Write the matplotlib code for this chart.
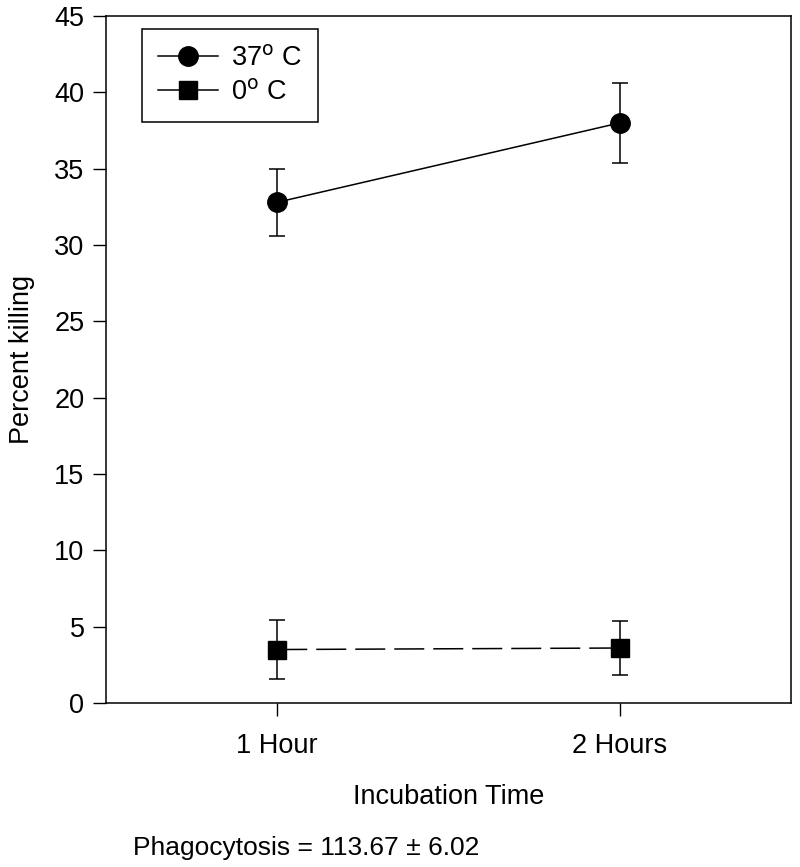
import matplotlib
matplotlib.use("Agg")
import matplotlib.pyplot as plt
from matplotlib.lines import Line2D

plt.rcParams["font.family"] = ["Liberation Sans", "DejaVu Sans"]

time_labels = ["1 Hour", "2 Hours"]
time_pos = [1, 2]

kill_37 = [32.8, 38.0]
err_37 = [2.2, 2.6]
kill_0 = [3.5, 3.6]
err_0 = [1.95, 1.8]

fig = plt.figure(figsize=(8, 8.67), dpi=100)
ax = fig.add_axes([0.1325, 0.1892, 0.8563, 0.7923])

lw = 1.1
ax.errorbar(time_pos, kill_37, yerr=err_37, fmt="-o", color="black",
            markersize=14, linewidth=lw, elinewidth=lw, capsize=5.5,
            capthick=lw)
ax.errorbar(time_pos, kill_0, yerr=err_0, fmt="s", color="black",
            markersize=12.5, elinewidth=lw, capsize=5.5, capthick=lw)
ax.plot(time_pos, kill_0, color="black", linewidth=lw,
        dashes=(30 * 0.72 / lw, 9 * 0.72 / lw))

ax.set_xlim(0.5, 2.5)
ax.set_ylim(0, 45)
ax.set_yticks(range(0, 46, 5))
ax.set_xticks(time_pos)
ax.set_xticklabels(time_labels)
ax.tick_params(direction="out", length=9.5, width=1, labelsize=19.5, pad=6)
ax.tick_params(axis="x", pad=12)
for s in ax.spines.values():
    s.set_linewidth(1.1)

ax.set_xlabel("Incubation Time", fontsize=19.5, labelpad=18)
ax.set_ylabel("Percent killing", fontsize=19.5, labelpad=14)

handles = [
    Line2D([], [], color="black", marker="o", markersize=14, linewidth=lw),
    Line2D([], [], color="black", marker="s", markersize=12.5, linewidth=lw),
]
leg = ax.legend(handles, ["37$^{\\mathrm{o}}$ C", "0$^{\\mathrm{o}}$ C"],
                loc="upper left", bbox_to_anchor=(0.0526, 0.981),
                borderaxespad=0, fontsize=19.5, handlelength=2.2,
                fancybox=False, framealpha=1, edgecolor="black",
                borderpad=0.6, labelspacing=0.3, handletextpad=0.5)
leg.get_frame().set_linewidth(1.1)

fig.text(0.166, 0.008, "Phagocytosis = 113.67 \u00b1 6.02", fontsize=19,
         ha="left", va="bottom")

fig.savefig("out.png", dpi=100)
